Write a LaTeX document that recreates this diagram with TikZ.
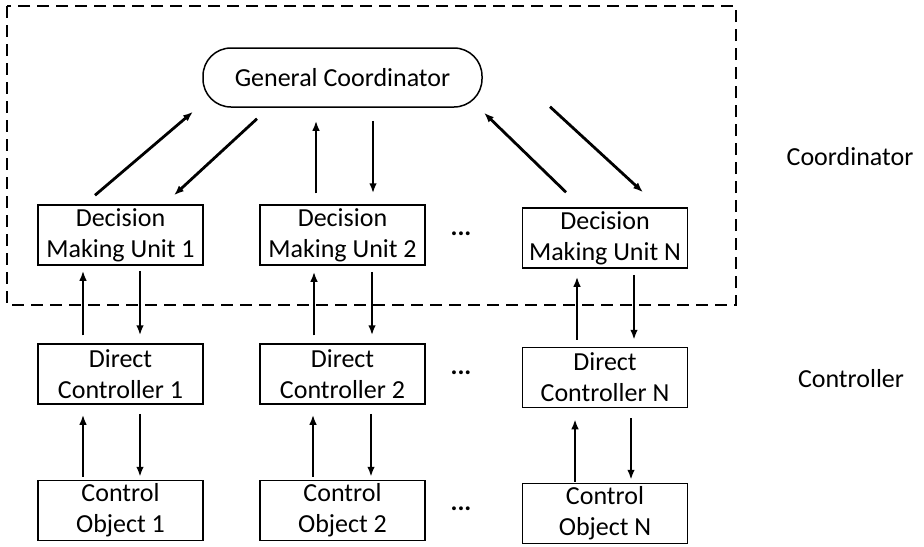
\documentclass[tikz,border=0pt]{standalone}
\usepackage{fontspec}
\setmainfont{Carlito}
\usetikzlibrary{arrows.meta,calc}
\begin{document}
\begin{tikzpicture}[x=0.5pt,y=-0.5pt,
  box/.style={draw,line width=0.75pt,minimum width=82.5pt,minimum height=30pt,inner sep=0pt,align=center,font=\fontsize{13}{15.5}\selectfont},
  arr/.style={line width=1.4pt,-{Latex[length=5pt,width=3.8pt]}},
  lbl/.style={font=\fontsize{13}{15.5}\selectfont},
  dots/.style={font=\fontsize{13}{15.5}\selectfont}]
\useasboundingbox (0,0) rectangle (924,546);
% dashed coordinator region
\draw[dashed,line width=0.85pt,dash pattern=on 6pt off 3.5pt] (7,6) rectangle (736,305);
% nodes
\node[draw,line width=0.75pt,rounded corners=14pt,minimum width=139.5pt,minimum height=29.5pt,inner sep=0pt,font=\fontsize{13}{15.5}\selectfont] (gc) at (342.5,77.5) {General Coordinator};
\node[box] (dmu1) at (120.5,235) {Decision\\Making Unit 1};
\node[box] (dmu2) at (342.5,235) {Decision\\Making Unit 2};
\node[box] (dmuN) at (605,238) {Decision\\Making Unit N};
\node[box] (dc1) at (120.5,374) {Direct\\Controller 1};
\node[box] (dc2) at (342.5,374) {Direct\\Controller 2};
\node[box] (dcN) at (605,377.5) {Direct\\Controller N};
\node[box] (co1) at (120.5,510.5) {Control\\Object 1};
\node[box] (co2) at (342.5,510.5) {Control\\Object 2};
\node[box] (coN) at (605,513.5) {Control\\Object N};
\node[dots] (d1) at (461,234) {\textbf{...}};
\node[dots] (d2) at (461,373) {\textbf{...}};
\node[dots] (d3) at (461,509) {\textbf{...}};
\node[lbl] (lcoord) at (850,157) {Coordinator};
\node[lbl] (lctrl) at (851,379) {Controller};
% GC <-> DMU
\draw[arr] ($(dmu1.north)+(-25.5,-9)$) -- ($(gc.south)+(-149.5,4)$);
\draw[arr] ($(gc.south)+(-85.5,11)$) -- ($(dmu1.north)+(53.5,-9)$);
\draw[arr] ($(dmu2.north)+(-26.5,-11)$) -- ($(gc.south)+(-26.5,13)$);
\draw[arr] ($(gc.south)+(30.5,13)$) -- ($(dmu2.north)+(30.5,-11)$);
\draw[arr] ($(dmuN.north)+(-39,-15)$) -- ($(gc.south)+(141.5,5)$);
\draw[arr] ($(gc.south)+(207.5,-1)$) -- ($(dmuN.north)+(38,-15)$);
% DMU <-> DC
\draw[arr] ($(dc1.north)+(-37.5,-8)$) -- ($(dmu1.south)+(-37.5,5)$);
\draw[arr] ($(dmu1.south)+(19.5,5)$) -- ($(dc1.north)+(19.5,-8)$);
\draw[arr] ($(dc2.north)+(-28.5,-8)$) -- ($(dmu2.south)+(-28.5,6)$);
\draw[arr] ($(dmu2.south)+(29.5,6)$) -- ($(dc2.north)+(29.5,-8)$);
\draw[arr] ($(dcN.north)+(-28,-7)$) -- ($(dmuN.south)+(-28,8)$);
\draw[arr] ($(dmuN.south)+(29,6)$) -- ($(dcN.north)+(29,-7)$);
% DC <-> CO
\draw[arr] ($(co1.north)+(-37.5,-3)$) -- ($(dc1.south)+(-37.5,10)$);
\draw[arr] ($(dc1.south)+(19.5,9)$) -- ($(co1.north)+(19.5,-3)$);
\draw[arr] ($(co2.north)+(-29.5,-3)$) -- ($(dc2.south)+(-29.5,10)$);
\draw[arr] ($(dc2.south)+(28.5,9)$) -- ($(co2.north)+(28.5,-3)$);
\draw[arr] ($(coN.north)+(-30,-1)$) -- ($(dcN.south)+(-30,11)$);
\draw[arr] ($(dcN.south)+(26,10)$) -- ($(coN.north)+(26,-3)$);
\end{tikzpicture}
\end{document}
